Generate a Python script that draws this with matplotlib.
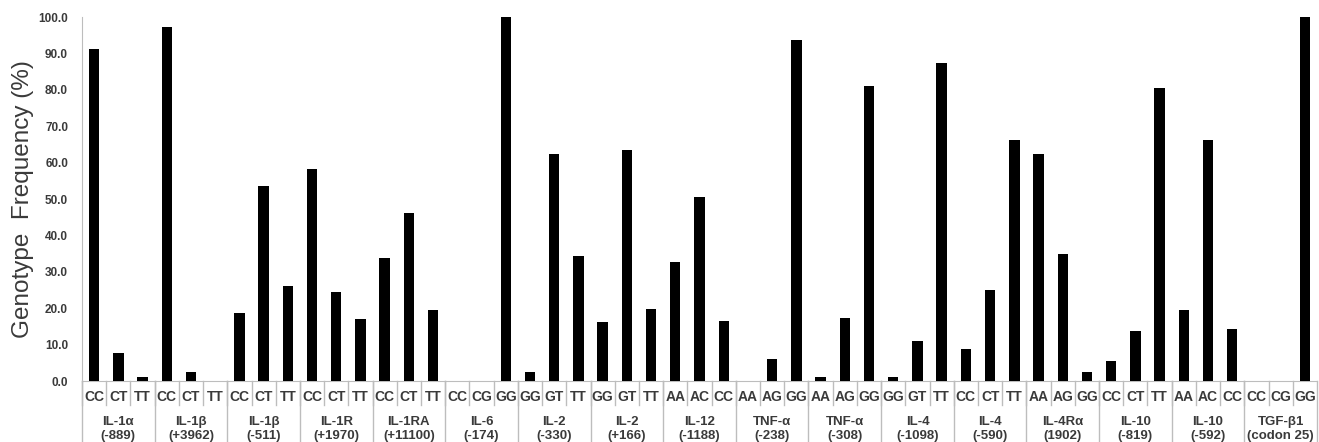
"""Genotype frequency bar chart with two-tier category table under the axis."""

import matplotlib
matplotlib.use("Agg")
import matplotlib.pyplot as plt
import matplotlib.transforms as mtransforms
import numpy as np

plt.rcParams["font.family"] = ["Liberation Sans", "DejaVu Sans"]

groups = [
    "IL-1α\n(-889)", "IL-1β\n(+3962)", "IL-1β\n(-511)", "IL-1R\n(+1970)",
    "IL-1RA\n(+11100)", "IL-6\n(-174)", "IL-2\n(-330)", "IL-2\n(+166)",
    "IL-12\n(-1188)", "TNF-α\n(-238)", "TNF-α\n(-308)", "IL-4\n(-1098)",
    "IL-4\n(-590)", "IL-4Rα\n(1902)", "IL-10\n(-819)", "IL-10\n(-592)",
    "TGF-β1\n(codon 25)",
]
genotypes = [
    ["CC", "CT", "TT"], ["CC", "CT", "TT"], ["CC", "CT", "TT"], ["CC", "CT", "TT"],
    ["CC", "CT", "TT"], ["CC", "CG", "GG"], ["GG", "GT", "TT"], ["GG", "GT", "TT"],
    ["AA", "AC", "CC"], ["AA", "AG", "GG"], ["AA", "AG", "GG"], ["GG", "GT", "TT"],
    ["CC", "CT", "TT"], ["AA", "AG", "GG"], ["CC", "CT", "TT"], ["AA", "AC", "CC"],
    ["CC", "CG", "GG"],
]
frequency = [
    [91.2, 7.6, 1.2], [97.3, 2.4, 0.0], [18.6, 53.7, 26.1], [58.2, 24.5, 16.9],
    [33.9, 46.1, 19.6], [0.0, 0.0, 100.0], [2.6, 62.5, 34.4], [16.2, 63.5, 19.9],
    [32.8, 50.5, 16.4], [0.0, 6.0, 93.7], [1.1, 17.4, 81.1], [1.1, 11.1, 87.4],
    [8.7, 25.0, 66.1], [62.5, 34.8, 2.4], [5.5, 13.8, 80.4], [19.5, 66.1, 14.2],
    [0.0, 0.0, 100.0],
]

labels = [g for grp in genotypes for g in grp]
values = [v for grp in frequency for v in grp]
x = np.arange(len(values))

TEXT = "#3a3a3a"
GRID = "#bdbdbd"

fig = plt.figure(figsize=(13.19, 4.42), dpi=100)
ax = fig.add_axes([82 / 1319, 1 - 381 / 442, (1317 - 82) / 1319, 364 / 442])

ax.bar(x, values, width=0.43, color="black", zorder=3)

ax.set_xlim(-0.5, len(values) - 0.5)
ax.set_ylim(0, 100)
ax.set_yticks(np.arange(0, 101, 10))
ax.set_yticklabels([f"{t:.1f}" for t in range(0, 101, 10)])
ax.tick_params(axis="y", length=0, pad=10, labelsize=8.5, labelcolor=TEXT)
for lbl in ax.get_yticklabels():
    lbl.set_fontweight("bold")
ax.set_xticks([])

for side in ("top", "right"):
    ax.spines[side].set_visible(False)
ax.spines["left"].set_color(GRID)
ax.spines["bottom"].set_color(GRID)

ax.set_ylabel("Genotype  Frequency (%)", fontsize=17.5, color=TEXT)
ax.yaxis.set_label_coords(-48 / 1235, 0.5)

# category table below the axis
trans = mtransforms.blended_transform_factory(ax.transData, ax.transAxes)
row1 = -24 / 364
bottom = -70 / 364
for i, lab in enumerate(labels):
    ax.text(i, -16 / 364, lab, transform=trans, ha="center", va="center",
            fontsize=10, fontweight="bold", color=TEXT)
    ax.plot([i - 0.5, i - 0.5], [0, row1], transform=trans, color=GRID,
            lw=1, clip_on=False)

start = 0
for name, grp in zip(groups, genotypes):
    end = start + len(grp)
    ax.plot([start - 0.5, start - 0.5], [0, bottom], transform=trans,
            color=GRID, lw=1, clip_on=False)
    ax.text((start + end - 1) / 2, -48 / 364, name, transform=trans,
            ha="center", va="center", fontsize=9.5, fontweight="bold",
            color=TEXT, linespacing=1.15)
    start = end
ax.plot([start - 0.5, start - 0.5], [0, bottom], transform=trans,
        color=GRID, lw=1, clip_on=False)

fig.savefig("out.png", dpi=100)
